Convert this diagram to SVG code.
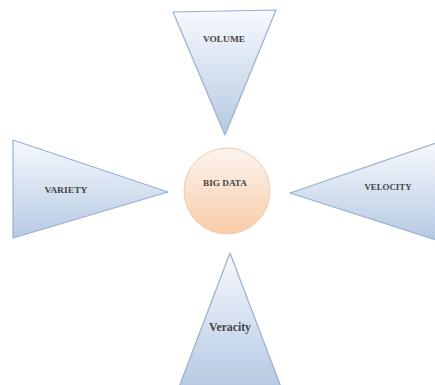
<svg xmlns="http://www.w3.org/2000/svg" width="435" height="385" viewBox="0 0 435 385">
<defs>
<linearGradient id="tri" x1="0" y1="0" x2="0" y2="1">
<stop offset="0" stop-color="#f7f9fd"/>
<stop offset="1" stop-color="#b6c9e3"/>
</linearGradient>
<linearGradient id="circ" x1="0" y1="0" x2="0" y2="1">
<stop offset="0" stop-color="#fdf4ee"/>
<stop offset="1" stop-color="#f8cca8"/>
</linearGradient>
</defs>
<style>
.t{fill:url(#tri);stroke:#9ab0d0;stroke-width:1.2;stroke-linejoin:round}
.c{fill:url(#circ);stroke:#f2cbad;stroke-width:1}
.lb{font-family:"Liberation Serif","Times New Roman",serif;font-size:9px;font-weight:bold;fill:#454545;text-anchor:middle}
.lg{font-family:"Liberation Serif","Times New Roman",serif;font-size:12px;font-weight:bold;fill:#454545;text-anchor:middle}
</style>
<rect width="435" height="385" fill="#ffffff"/>
<g id="volume">
<polygon class="t" points="173,12 276,10 225,135"/>
<text class="lb" x="224" y="42" textLength="42" lengthAdjust="spacingAndGlyphs">VOLUME</text>
</g>
<g id="variety">
<polygon class="t" points="13,140 13,238 168,192"/>
<text class="lb" x="66" y="193" textLength="43" lengthAdjust="spacingAndGlyphs">VARIETY</text>
</g>
<g id="velocity">
<polygon class="t" points="290,193 436,143 436,240"/>
<text class="lb" x="388" y="190" textLength="47" lengthAdjust="spacingAndGlyphs">VELOCITY</text>
</g>
<g id="veracity">
<polygon class="t" points="230,253 281,387 179,387"/>
<text class="lg" x="230" y="331" textLength="42" lengthAdjust="spacingAndGlyphs">Veracity</text>
</g>
<g id="bigdata">
<ellipse class="c" cx="227" cy="191" rx="43" ry="43"/>
<text class="lb" x="225" y="186" textLength="44" lengthAdjust="spacingAndGlyphs">BIG DATA</text>
</g>
<g id="connectors"></g>
</svg>
